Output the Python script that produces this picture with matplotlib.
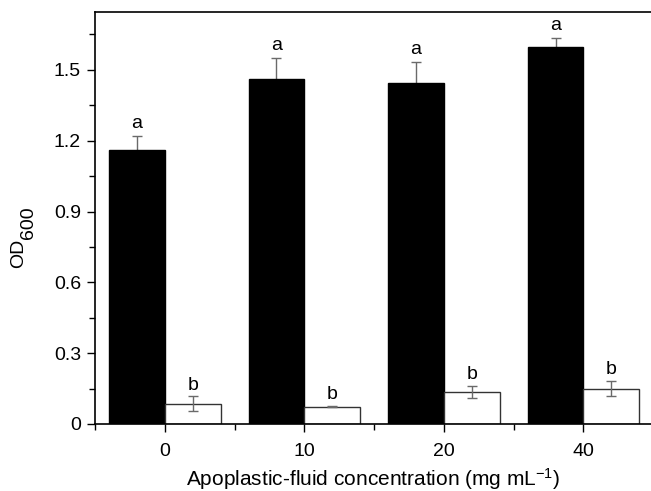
import matplotlib
matplotlib.use("Agg")
import matplotlib.pyplot as plt
import numpy as np

categories = ["0", "10", "20", "40"]
black_vals = [1.16, 1.46, 1.445, 1.595]
black_err = [0.06, 0.09, 0.09, 0.04]
white_vals = [0.085, 0.073, 0.136, 0.150]
white_err = [0.032, 0.003, 0.027, 0.031]
black_letters = ["a", "a", "a", "a"]
white_letters = ["b", "b", "b", "b"]

plt.rcParams['font.family'] = ['Liberation Sans', 'DejaVu Sans']
plt.rcParams['mathtext.fontset'] = 'custom'
plt.rcParams['mathtext.rm'] = 'Liberation Sans'
plt.rcParams['mathtext.it'] = 'Liberation Sans:italic'
plt.rcParams['mathtext.bf'] = 'Liberation Sans:bold'

W, H = 651, 491
fig = plt.figure(figsize=(W/100, H/100), dpi=100)
ax = fig.add_axes([95/W, 1-424/H, 1-95/W, (424-12)/H])

x = np.arange(len(categories))
w = 0.4
ecol = '#6a6a6a'
# black bar error bars drawn behind the bars so only the upper half shows
ax.errorbar(x - w/2, black_vals, yerr=black_err, fmt='none',
            ecolor=ecol, elinewidth=1.0, capsize=3.3, capthick=1.0, zorder=1)
ax.bar(x - w/2, black_vals, w, color='black', edgecolor='black', linewidth=1.0, zorder=2)
ax.bar(x + w/2, white_vals, w, color='white', edgecolor='#333333', linewidth=1.0, zorder=2)
ax.errorbar(x + w/2, white_vals, yerr=white_err, fmt='none',
            ecolor=ecol, elinewidth=1.0, capsize=3.3, capthick=1.0, zorder=3)

for xi, v, e, t in zip(x - w/2, black_vals, black_err, black_letters):
    ax.text(xi, v + e + 0.015, t, ha='center', va='bottom', fontsize=14)
for xi, v, e, t in zip(x + w/2, white_vals, white_err, white_letters):
    ax.text(xi, v + e + 0.012, t, ha='center', va='bottom', fontsize=14)

ax.set_xlim(-0.5, 3.484)
ax.set_ylim(0, 1.745)
ax.set_yticks([0, 0.3, 0.6, 0.9, 1.2, 1.5])
ax.set_yticklabels(["0", "0.3", "0.6", "0.9", "1.2", "1.5"])
ax.set_yticks(np.arange(0.15, 1.75, 0.3), minor=True)
ax.set_xticks(x)
ax.set_xticklabels(categories)
ax.set_xticks(np.arange(-0.5, 3.5, 1.0), minor=True)

for s in ['left', 'top', 'bottom']:
    ax.spines[s].set_linewidth(1.2)
ax.spines['right'].set_visible(False)
ax.tick_params(axis='both', which='major', direction='out', length=6, width=1.0,
               labelsize=14, pad=4)
ax.tick_params(axis='x', which='major', pad=8)
ax.tick_params(axis='both', which='minor', direction='out', length=4, width=1.0)

# y label: "OD" with a large subscript "600"
fig.text(19/W, 1-253/H, "OD", rotation=90, ha='center', va='center', fontsize=14)
fig.text(28/W, 1-223/H, "600", rotation=90, ha='center', va='center', fontsize=14)

ax.set_xlabel(r"Apoplastic-fluid concentration (mg mL$^{\mathrm{-1}}$)", fontsize=15)
ax.xaxis.set_label_coords(0.5, -0.103)

fig.savefig("out.png", dpi=100)
